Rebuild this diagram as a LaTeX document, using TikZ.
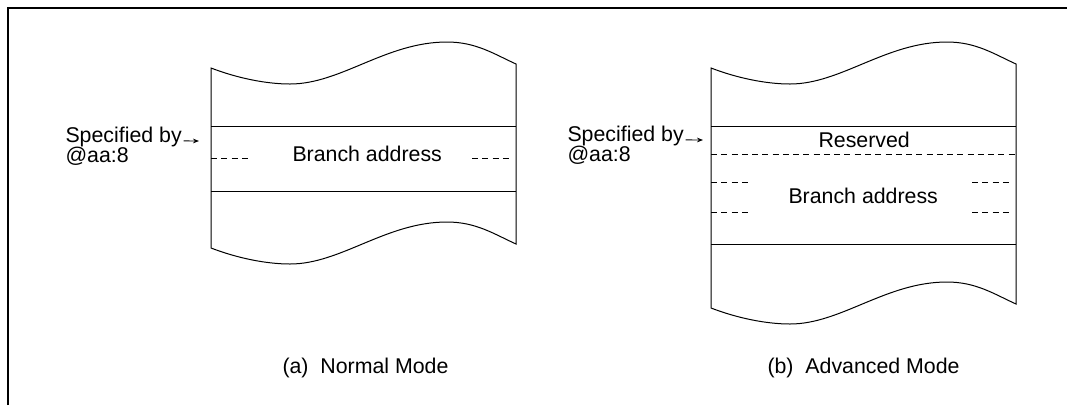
\documentclass[tikz,border=0pt]{standalone}
\usepackage{fontspec}
\setmainfont{Liberation Sans}
\usetikzlibrary{arrows.meta}
\begin{document}
\begin{tikzpicture}[x=0.75pt,y=-0.75pt,line width=0.75pt,
  lbl/.style={inner sep=0pt,anchor=base west,font=\fontsize{16}{19}\selectfont},
  dsh/.style={dash pattern=on 4.5pt off 3.2pt},
  ptr/.style={line width=0.7pt,-{Stealth[length=4.5pt,width=3.5pt]}}]
\useasboundingbox (0,0) rectangle (1067,405);
% frame
\draw[line width=1.5pt] (7.7,405) -- (7.7,8.3) -- (1067,8.3);

% ----- (a) Normal mode -----
\draw (211,68) .. controls (237,78) and (266,84) .. (290,84)
  .. controls (341,84) and (386,42) .. (447,42)
  .. controls (476,42) and (494,54) .. (516,64)
  -- (516,244)
  .. controls (494,234) and (476,222) .. (447,222)
  .. controls (386,222) and (341,264) .. (290,264)
  .. controls (266,264) and (237,258) .. (211,248) -- cycle;
\draw (211,126) -- (516,126);
\draw (211,191) -- (516,191);
\draw[dsh] (211,158) -- (249,158);
\draw[dsh] (472,158) -- (510,158);
\node[lbl] (ba1) at (292,161) {Branch address};
\node[lbl] (sp1) at (65,142) {Specified by};
\node[lbl] (aa1) at (65,162) {@aa:8};
\coordinate (t1) at (199,141);
\draw[ptr] ([xshift=1pt,yshift=0.8pt]sp1.base east) -- (t1);
\node[lbl] (ca) at (282,373) {(a)\ \ Normal Mode};

% ----- (b) Advanced mode -----
\draw (711,68) .. controls (737,78) and (766,84) .. (790,84)
  .. controls (841,84) and (886,42) .. (947,42)
  .. controls (976,42) and (994,54) .. (1016,64)
  -- (1016,304)
  .. controls (994,294) and (976,282) .. (947,282)
  .. controls (886,282) and (841,324) .. (790,324)
  .. controls (766,324) and (737,318) .. (711,308) -- cycle;
\draw (711,126) -- (1016,126);
\draw (711,244) -- (1016,244);
\draw[dsh] (711,154) -- (1016,154);
\draw[dsh] (711,182) -- (749,182);
\draw[dsh] (711,212) -- (749,212);
\draw[dsh] (972,182) -- (1010,182);
\draw[dsh] (972,212) -- (1010,212);
\node[lbl] (rs) at (818,147) {Reserved};
\node[lbl] (ba2) at (788,203) {Branch address};
\node[lbl] (sp2) at (567,141) {Specified by};
\node[lbl] (aa2) at (567,161) {@aa:8};
\coordinate (t2) at (703,140);
\draw[ptr] ([xshift=1pt,yshift=0.8pt]sp2.base east) -- (t2);
\node[lbl] (cb) at (767,373) {(b)\ \ Advanced Mode};
\end{tikzpicture}
\end{document}
